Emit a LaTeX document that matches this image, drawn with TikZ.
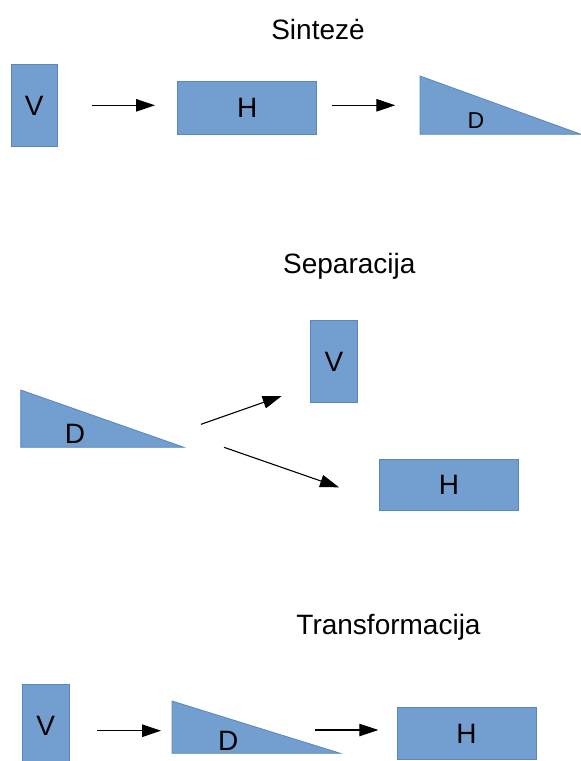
\documentclass[tikz,border=0pt]{standalone}
\usepackage{fontspec}
\setmainfont{Liberation Sans}
\usetikzlibrary{arrows.meta}
\definecolor{boxfill}{HTML}{729FCF}
\definecolor{boxline}{HTML}{5A86BF}
\tikzset{
  blockbox/.style={draw=boxline, fill=boxfill, line width=0.8pt, inner sep=0pt,
    text height=20pt, text depth=0pt, font=\fontsize{28}{30}\selectfont},
  tri/.style={draw=boxline, fill=boxfill, line width=0.8pt, line join=miter},
  trilabel/.style={inner sep=0pt, text height=20pt, text depth=0pt, font=\fontsize{28}{30}\selectfont},
  trilabelsmall/.style={inner sep=0pt, text height=16.5pt, text depth=0pt, font=\fontsize{23}{25}\selectfont},
  title/.style={inner sep=0pt, anchor=base, font=\fontsize{28}{30}\selectfont},
  flow/.style={line width=1.1pt, -{Triangle[length=19pt,width=12.5pt]}}
}
\begin{document}
\begin{tikzpicture}[x=1pt,y=-1pt]
\useasboundingbox (0,0) rectangle (581,761);

% ---------- Sinteze ----------
\node[title] (t1) at (318,39.5) {Sintezė};
\node[blockbox, minimum width=46.5pt, minimum height=82pt] (v1) at (34.25,105) {V};
\node[blockbox, minimum width=139pt, minimum height=53.3pt] (h1) at (247.2,107.7) {H};
\draw[tri] (420,76) -- (420,134.3) -- (581,134.3) -- cycle;
\node[trilabelsmall] (d1) at (476,120) {D};
\coordinate (a1s) at (91.7,105.3);
\coordinate (a1e) at (155,105.3);
\coordinate (a2s) at (331.7,105.3);
\coordinate (a2e) at (395.3,105.3);
\draw[flow] (a1s) -- (a1e);
\draw[flow] (a2s) -- (a2e);

% ---------- Separacija ----------
\node[title] (t2) at (349.3,273.3) {Separacija};
\draw[tri] (20.7,390) -- (20.7,447.3) -- (184,447.3) -- cycle;
\node[trilabel] (d2) at (75,433.3) {D};
\node[blockbox, minimum width=46.6pt, minimum height=81.7pt] (v2) at (334,361.2) {V};
\node[blockbox, minimum width=139.4pt, minimum height=51.7pt] (h2) at (449,484.8) {H};
\coordinate (b1s) at (201,424.3);
\coordinate (b1e) at (281.7,396);
\coordinate (b2s) at (224,447.3);
\coordinate (b2e) at (339,487.3);
\draw[flow] (b1s) -- (b1e);
\draw[flow] (b2s) -- (b2e);

% ---------- Transformacija ----------
\node[title] (t3) at (388.5,634.3) {Transformacija};
\node[blockbox, minimum width=46.7pt, minimum height=82pt] (v3) at (45.7,725) {V};
\draw[tri] (172,701) -- (172,753.3) -- (340.3,753.3) -- cycle;
\node[trilabel] (d3) at (228.3,740) {D};
\node[blockbox, minimum width=139pt, minimum height=52pt] (h3) at (466.5,733.3) {H};
\coordinate (c1s) at (97.3,730.7);
\coordinate (c1e) at (161,730.7);
\coordinate (c2s) at (315.3,730);
\coordinate (c2e) at (378.3,730);
\draw[flow] (c1s) -- (c1e);
\draw[flow] (c2s) -- (c2e);
\end{tikzpicture}
\end{document}
